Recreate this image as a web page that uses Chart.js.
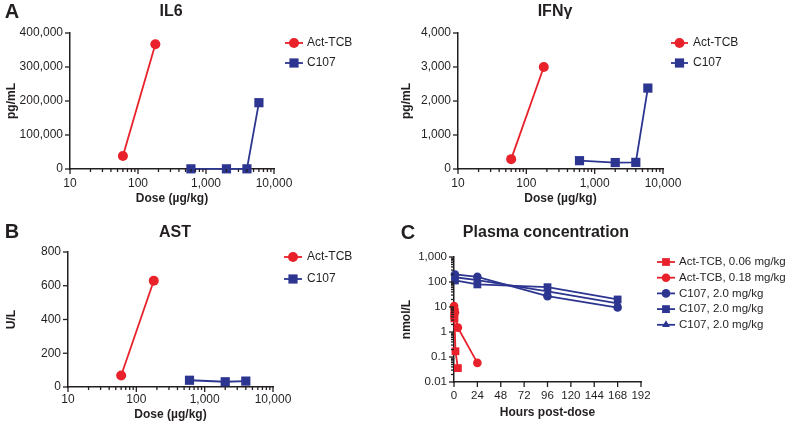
<!DOCTYPE html>
<html>
<head>
<meta charset="utf-8">
<script src="https://cdn.jsdelivr.net/npm/chart.js@4.4.1/dist/chart.umd.min.js"></script>
<style>
  body { margin: 0; background: #fff; width: 790px; height: 423px; position: relative; overflow: hidden;
         font-family: 'Liberation Sans', Arial, sans-serif; color: #231f20; }
  .box { position: absolute; width: 395px; }
  .lbl { position: absolute; font-weight: bold; transform: translate(-50%, -50%); white-space: nowrap; }
  .letter { font-size: 20px; }
  .title { font-size: 16px; }
</style>
</head>
<body>
<div class="box" style="left:0;top:0;height:210px"><canvas id="il6Chart"></canvas></div>
<div class="box" style="left:395px;top:0;height:210px"><canvas id="ifnChart"></canvas></div>
<div class="box" style="left:0;top:210px;height:213px"><canvas id="astChart"></canvas></div>
<div class="box" style="left:395px;top:210px;height:213px"><canvas id="pkChart"></canvas></div>

<div class="lbl letter" style="left:12px;top:11px">A</div>
<div class="lbl title" style="left:171px;top:11px">IL6</div>
<div class="lbl title" style="left:555px;top:11px">IFNγ</div>
<div class="lbl letter" style="left:12px;top:231px">B</div>
<div class="lbl title" style="left:175px;top:232px">AST</div>
<div class="lbl letter" style="left:408px;top:232px">C</div>
<div class="lbl title" style="left:546px;top:232px">Plasma concentration</div>

<script>
// ---- data ----
const doseAct = [60, 180];
const doseC107 = [600, 2000, 4000, 6000];
const doseC107Ast = [600, 2000, 4000];

const il6Act = [38000, 367000];
const il6C107 = [500, 500, 500, 195000];

const ifnAct = [290, 3000];
const ifnC107 = [245, 190, 195, 2380];

const astAct = [68, 630];
const astC107 = [40, 31, 35];

const pkTimeAct06 = [0.1, 0.5, 1.5, 4];
const pkAct06 = [4.6, 3.5, 0.17, 0.036];
const pkTimeAct18 = [0.1, 0.5, 1, 4, 24];
const pkAct18 = [11, 8, 6, 1.5, 0.058];
const pkTimeC107 = [1, 24, 96, 168];
const pkC107a = [200, 160, 27, 9.5];
const pkC107b = [115, 80, 62, 20];
const pkC107c = [155, 120, 42, 14];

const doseTicks = [10, 100, 1000, 10000];
const concTicks = [0.01, 0.1, 1, 10, 100, 1000];
const hourTicks = [0, 24, 48, 72, 96, 120, 144, 168, 192];

// ---- style ----
const RED = '#e8212a';
const BLUE = '#2c3590';
const INK = '#231f20';

Chart.defaults.font.family = "'Liberation Sans', Arial, sans-serif";
Chart.defaults.font.size = 12;
Chart.defaults.color = INK;
Chart.defaults.animation = false;

const pts = (xs, ys) => xs.map((x, i) => ({ x: x, y: ys[i] }));

// minor ticks 1..9 per decade between the given decade ticks
function logMinorTicks(decades) {
  const out = [];
  for (let i = 0; i < decades.length - 1; i++) {
    for (let k = 1; k < 10; k++) out.push(+(decades[i] * k).toPrecision(6));
  }
  out.push(decades[decades.length - 1]);
  return out;
}

const decadeLabel = v => {
  const l = Math.log10(v);
  return Math.abs(l - Math.round(l)) < 1e-6 ? Number(v).toLocaleString('en-US') : '';
};

// tick marks: long for labelled ticks, short for minor ones
const tickMarks = {
  id: 'tickMarks',
  afterDraw(chart) {
    const ctx = chart.ctx;
    ctx.save();
    ctx.strokeStyle = INK;
    ctx.lineWidth = 1.3;
    Object.values(chart.scales).forEach(s => {
      s.ticks.forEach(t => {
        const len = t.label === '' ? 3 : 5;
        const p = s.getPixelForValue(t.value);
        ctx.beginPath();
        if (s.isHorizontal()) { ctx.moveTo(p, s.top); ctx.lineTo(p, s.top + len); }
        else { ctx.moveTo(s.right, p); ctx.lineTo(s.right - len, p); }
        ctx.stroke();
      });
    });
    ctx.restore();
  }
};

function drawMarker(ctx, style, r, x, y) {
  ctx.beginPath();
  if (style === 'rect') {
    const h = r * Math.SQRT1_2;
    ctx.rect(x - h, y - h, 2 * h, 2 * h);
  } else if (style === 'triangle') {
    ctx.moveTo(x, y - r);
    ctx.lineTo(x + r * 0.87, y + r * 0.5);
    ctx.lineTo(x - r * 0.87, y + r * 0.5);
    ctx.closePath();
  } else {
    ctx.arc(x, y, r, 0, Math.PI * 2);
  }
  ctx.fill();
}

// GraphPad-style legend: short line with marker, then label
const lineLegend = {
  id: 'lineLegend',
  afterDraw(chart, args, opts) {
    const ctx = chart.ctx;
    ctx.save();
    ctx.font = opts.fontSize + "px 'Liberation Sans', Arial, sans-serif";
    ctx.textBaseline = 'middle';
    chart.data.datasets.forEach((ds, i) => {
      const y = opts.y + i * opts.rowH;
      ctx.strokeStyle = ds.borderColor;
      ctx.fillStyle = ds.borderColor;
      ctx.lineWidth = ds.borderWidth;
      ctx.beginPath();
      ctx.moveTo(opts.x, y);
      ctx.lineTo(opts.x + opts.lineW, y);
      ctx.stroke();
      drawMarker(ctx, ds.pointStyle, ds.pointRadius, opts.x + opts.lineW / 2, y);
      ctx.fillStyle = INK;
      ctx.fillText(ds.label, opts.textX, y);
    });
    ctx.restore();
  }
};

function series(label, data, color, style, r) {
  return {
    label: label, data: data,
    borderColor: color, backgroundColor: color,
    pointBackgroundColor: color, pointBorderWidth: 0,
    pointStyle: style, pointRadius: r, pointHoverRadius: r,
    borderWidth: 1.8, tension: 0, clip: false
  };
}

function axisBase() {
  return {
    grid: { display: false, tickLength: 5 },
    border: { display: true, color: INK, width: 1.5 },
    ticks: { color: INK, padding: 2 }
  };
}

function doseChart(id, opts) {
  const x = axisBase();
  Object.assign(x, {
    type: 'logarithmic', min: 10, max: 10000,
    title: { display: true, text: 'Dose (µg/kg)', font: { weight: 'bold', size: 12 }, padding: { top: 0, bottom: opts.titlePad } },
    afterBuildTicks: s => { s.ticks = logMinorTicks(doseTicks).map(v => ({ value: v })); },
    afterFit: s => { s.height = opts.xH; }
  });
  x.ticks = Object.assign(x.ticks, { autoSkip: false, maxRotation: 0, padding: opts.tickPad, callback: decadeLabel });

  const y = axisBase();
  Object.assign(y, {
    type: 'linear', min: 0, max: opts.yMax,
    title: { display: true, text: opts.yTitle, font: { weight: 'bold', size: 12 }, padding: { top: 4, bottom: 2 } },
    afterFit: s => { s.width = opts.left; }
  });
  y.ticks = Object.assign(y.ticks, { stepSize: opts.yStep, callback: v => Number(v).toLocaleString('en-US') });

  return new Chart(document.getElementById(id), {
    type: 'line',
    data: {
      datasets: [
        series('Act-TCB', pts(doseAct, opts.act), RED, 'circle', 5),
        series('C107', pts(opts.c107x, opts.c107), BLUE, 'rect', 6.5)
      ]
    },
    options: {
      responsive: true,
      maintainAspectRatio: false,
      layout: { padding: { left: 0, top: opts.top, right: opts.right, bottom: 0 } },
      scales: { x: x, y: y },
      plugins: {
        legend: { display: false },
        tooltip: { enabled: false },
        lineLegend: opts.legend
      }
    },
    plugins: [tickMarks, lineLegend]
  });
}

doseChart('il6Chart', {
  act: il6Act, c107: il6C107, c107x: doseC107,
  yMax: 400000, yStep: 100000, yTitle: 'pg/mL',
  left: 70, right: 121, top: 33, xH: 41, tickPad: 2, titlePad: 4,
  legend: { x: 285, lineW: 18, textX: 307, y: 43, rowH: 20, fontSize: 12 }
});

doseChart('ifnChart', {
  act: ifnAct, c107: ifnC107, c107x: doseC107,
  yMax: 4000, yStep: 1000, yTitle: 'pg/mL',
  left: 63, right: 127, top: 33, xH: 41, tickPad: 2, titlePad: 4,
  legend: { x: 276, lineW: 17, textX: 298, y: 43, rowH: 20, fontSize: 12 }
});

doseChart('astChart', {
  act: astAct, c107: astC107, c107x: doseC107Ast,
  yMax: 800, yStep: 200, yTitle: 'U/L',
  left: 68, right: 122, top: 42, xH: 36, tickPad: 0, titlePad: 1,
  legend: { x: 284, lineW: 18, textX: 307, y: 47, rowH: 22, fontSize: 12 }
});

// ---- plasma concentration ----
(function () {
  const x = axisBase();
  Object.assign(x, {
    type: 'linear', min: 0, max: 192,
    title: { display: true, text: 'Hours post-dose', font: { weight: 'bold', size: 12 }, padding: { top: 0, bottom: 3 } },
    afterBuildTicks: s => { s.ticks = hourTicks.map(v => ({ value: v })); },
    afterFit: s => { s.height = 41; }
  });
  x.ticks = Object.assign(x.ticks, { autoSkip: false, maxRotation: 0, font: { size: 11.5 } });

  const y = axisBase();
  Object.assign(y, {
    type: 'logarithmic', min: 0.01, max: 1000,
    title: { display: true, text: 'nmol/L', font: { weight: 'bold', size: 12 }, padding: { top: 4, bottom: 2 } },
    afterBuildTicks: s => { s.ticks = logMinorTicks(concTicks).map(v => ({ value: v })); },
    afterFit: s => { s.width = 59; }
  });
  y.ticks = Object.assign(y.ticks, { autoSkip: false, callback: decadeLabel, font: { size: 11.5 } });

  new Chart(document.getElementById('pkChart'), {
    type: 'line',
    data: {
      datasets: [
        series('Act-TCB, 0.06 mg/kg', pts(pkTimeAct06, pkAct06), RED, 'rect', 5.5),
        series('Act-TCB, 0.18 mg/kg', pts(pkTimeAct18, pkAct18), RED, 'circle', 4.3),
        series('C107, 2.0 mg/kg', pts(pkTimeC107, pkC107a), BLUE, 'circle', 4.3),
        series('C107, 2.0 mg/kg', pts(pkTimeC107, pkC107b), BLUE, 'rect', 5.5),
        series('C107, 2.0 mg/kg', pts(pkTimeC107, pkC107c), BLUE, 'triangle', 4.5)
      ]
    },
    options: {
      responsive: true,
      maintainAspectRatio: false,
      layout: { padding: { left: 0, top: 47, right: 149, bottom: 0 } },
      scales: { x: x, y: y },
      plugins: {
        legend: { display: false },
        tooltip: { enabled: false },
        lineLegend: { x: 262, lineW: 18, textX: 284, y: 52, rowH: 15.7, fontSize: 11.5 }
      }
    },
    plugins: [tickMarks, lineLegend]
  });
})();
</script>
</body>
</html>
